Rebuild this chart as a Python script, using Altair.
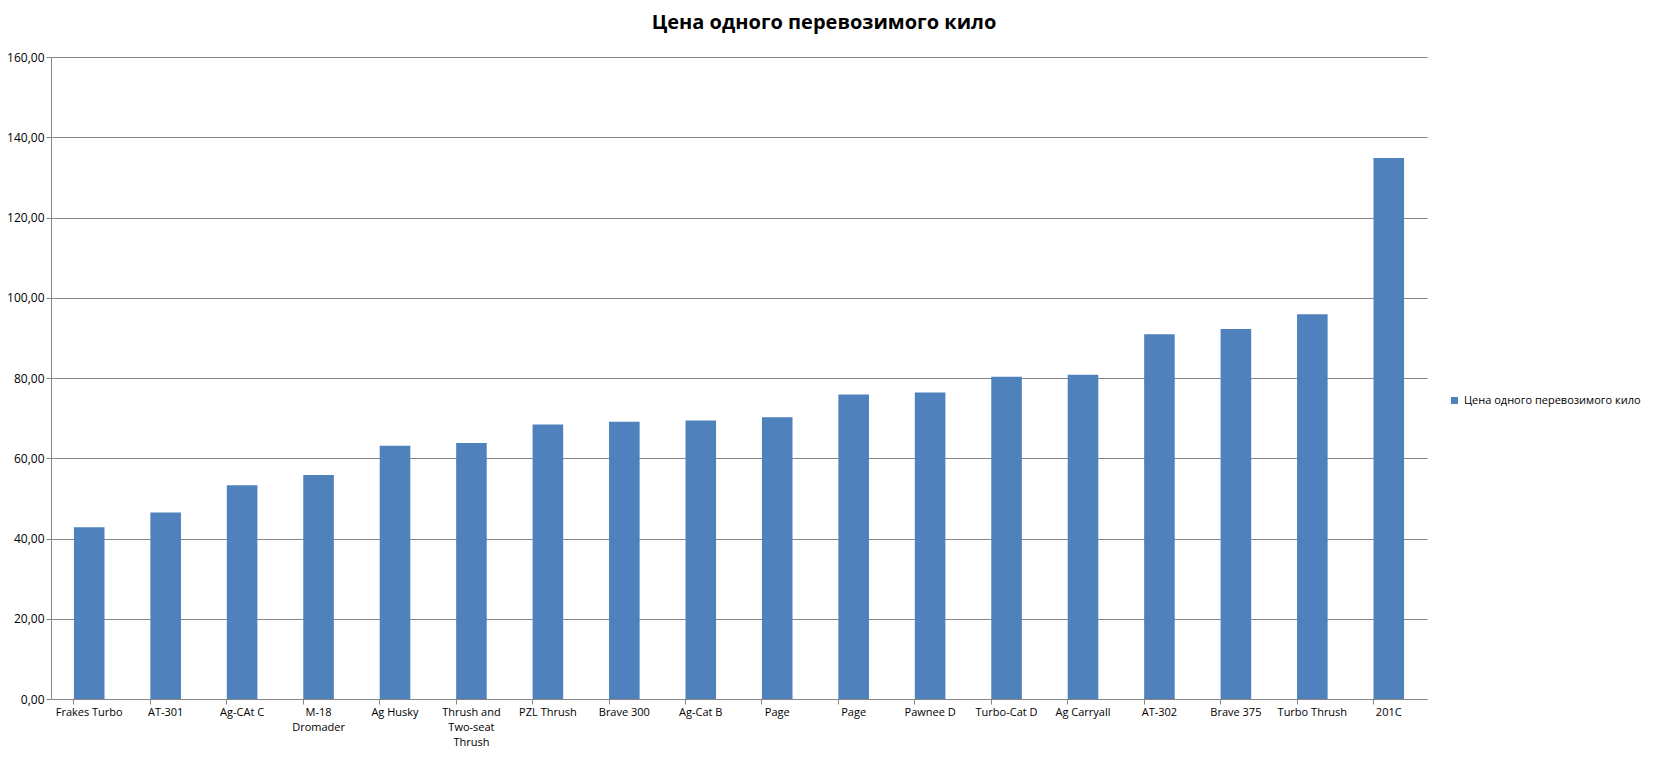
import json
import altair as alt
import pandas as pd

title_text = "Цена одного перевозимого кило"
series_name = "Цена одного перевозимого кило"

labels = [
    "Frakes Turbo", "AT-301", "Ag-CAt  C", "M-18\nDromader", "Ag Husky",
    "Thrush and\nTwo-seat\nThrush", "PZL Thrush", "Brave 300", "Ag-Cat B",
    "Page", "Page", "Pawnee D", "Turbo-Cat D", "Ag Carryall", "AT-302",
    "Brave 375", "Turbo Thrush", "201C",
]
values = [
    42.8, 46.5, 53.3, 55.8, 63.1, 63.8, 68.4, 69.1, 69.4,
    70.2, 75.9, 76.4, 80.3, 80.8, 90.9, 92.2, 95.9, 134.8,
]
y_ticks = [0, 20, 40, 60, 80, 100, 120, 140, 160]

df = pd.DataFrame({
    "idx": [str(i) for i in range(len(labels))],
    "value": values,
    "series": [series_name] * len(labels),
})

label_lines = [l.split("\n") for l in labels]
label_expr = json.dumps(label_lines, ensure_ascii=False) + "[toNumber(datum.value)]"

FONT = "Open Sans"
GRID = "#868686"

x_scale = alt.Scale(paddingInner=0.6, paddingOuter=0.3)
order = [str(i) for i in range(len(labels))]

bars = alt.Chart(df).mark_bar(color="#4F81BD").encode(
    x=alt.X("idx:N", sort=order, scale=x_scale, title=None,
            axis=alt.Axis(labelExpr=label_expr, labelAngle=0, ticks=False,
                          domainColor=GRID, labelFont=FONT, labelFontSize=11,
                          labelColor="black", labelPadding=7,
                          labelLineHeight=15, labelBaseline="top",
                          orient="bottom", grid=False)),
    y=alt.Y("value:Q", scale=alt.Scale(domain=[0, 160], nice=False), title=None,
            axis=alt.Axis(values=y_ticks,
                          labelExpr="replace(format(datum.value, '.2f'), '.', ',')",
                          grid=True, gridColor=GRID, domainColor=GRID,
                          tickColor=GRID, tickSize=5, labelPadding=2,
                          labelFont=FONT, labelFontSize=12, labelColor="black")),
    color=alt.Color("series:N", scale=alt.Scale(range=["#4F81BD"]),
                    legend=alt.Legend(title=None, orient="none", legendX=1398,
                                      legendY=338, symbolType="square",
                                      symbolSize=50, labelFont=FONT,
                                      labelFontSize=11, labelColor="black",
                                      labelLimit=0, symbolStrokeWidth=0)),
)

tick_layer = alt.Chart(df).mark_rule(opacity=0).encode(
    x=alt.X("idx:N", sort=order, scale=x_scale, title=None,
            axis=alt.Axis(labels=False, domain=False, ticks=True, tickColor=GRID,
                          tickSize=5, bandPosition=0, orient="bottom", grid=False)),
)

chart = alt.layer(bars, tick_layer).resolve_axis(x="independent").properties(
    width=1376,
    height=642,
    title=alt.TitleParams(title_text, font=FONT, fontSize=20, fontWeight="bold",
                          color="black", anchor="middle", dx=85, offset=18),
    autosize=alt.AutoSizeParams(type="none"),
    padding={"left": 43, "top": 49, "right": 218, "bottom": 51},
).configure_view(stroke=None)

chart.save("out.html", embed_options={"renderer": "svg", "actions": False})
